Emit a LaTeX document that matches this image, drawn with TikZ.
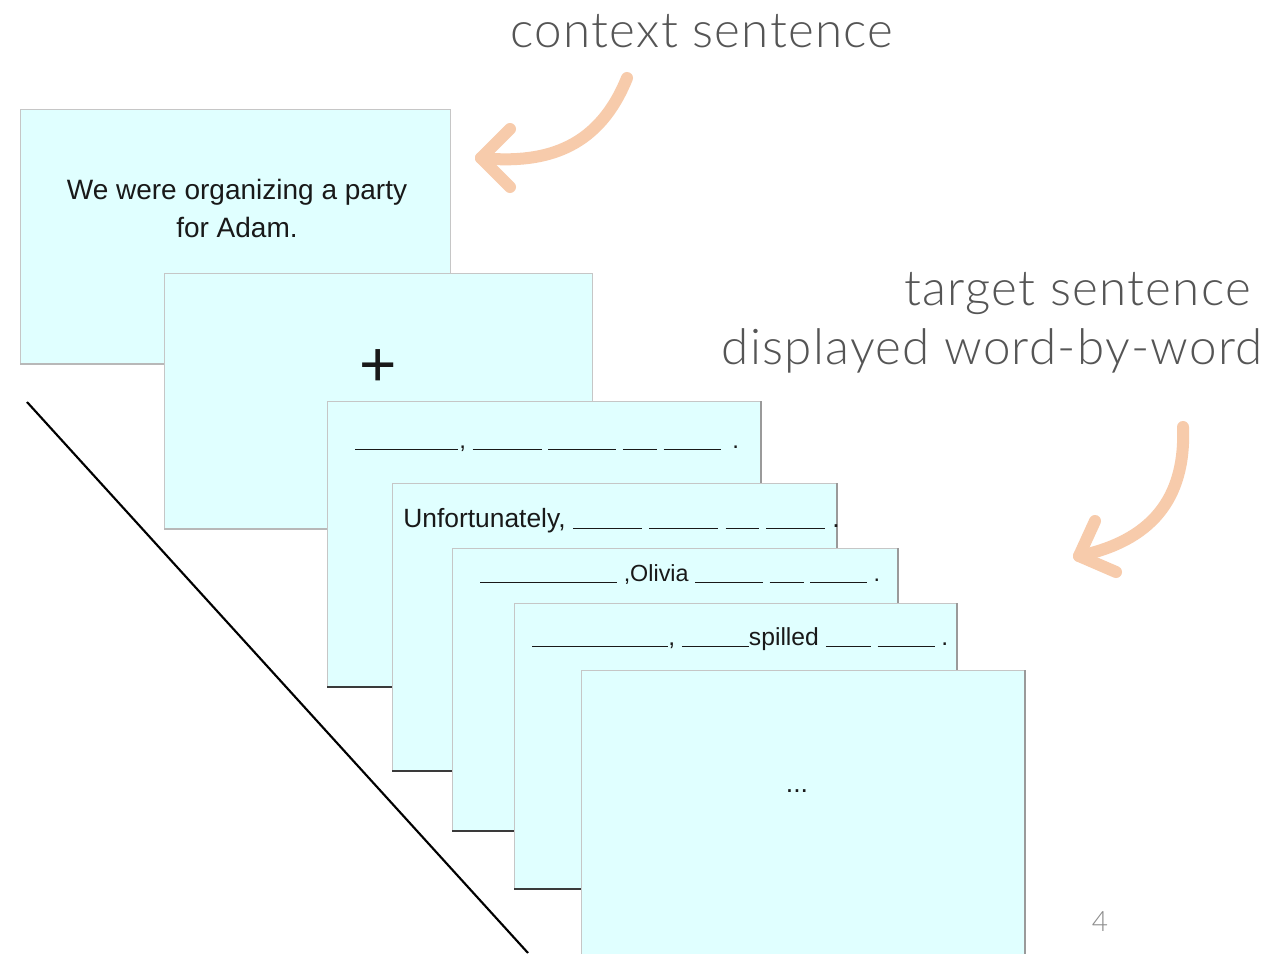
\documentclass[tikz,border=0pt]{standalone}
\usepackage{fontspec}
\setmainfont{Liberation Sans}
\newfontfamily\labelfont{Lato Light}
\newfontfamily\headfont{Lato Light}[LetterSpace=2.6]
\newlength\px
\setlength\px{0.75pt}
% an empty slot for a word not yet shown
\newcommand\blank[1]{\rule[-2\px]{#1\px}{1.4\px}}

\definecolor{cardfill}{HTML}{E0FFFF}
\definecolor{cardedge}{HTML}{C6C6C6}
\definecolor{cardright}{HTML}{9A9A9A}
\definecolor{shadowdark}{HTML}{3A3A3A}
\definecolor{shadowlight}{HTML}{B8B8B8}
\definecolor{peach}{HTML}{F7CBAB}
\definecolor{labelgray}{HTML}{555555}

\tikzset{
  card/.style={rectangle, fill=cardfill, draw=cardedge, line width=0.6pt,
    anchor=north west, inner sep=0pt, outer sep=0pt},
  rightedge/.style={draw=cardright, line width=0.9pt},
  darkshadow/.style={draw=shadowdark, line width=1.6pt},
  softshadow/.style={draw=shadowlight, line width=1.4pt},
  cardtext/.style={inner sep=0pt, text=black!90},
  cue/.style={draw=peach, line width=9pt, line cap=round, line join=round},
  label/.style={font=\headfont\fontsize{37pt}{44pt}\selectfont, text=labelgray, inner sep=0pt},
}

\begin{document}
\begin{tikzpicture}[x=0.75pt, y=-0.75pt]
\clip (0,0) rectangle (1281,953);
\fill[white] (0,0) rectangle (1281,953);

% stacked slides, back to front
\node[card, minimum width={430*0.75pt}, minimum height={255*0.75pt}] (c1) at (20,109) {};
\draw[softshadow] (c1.south west) -- (c1.south east);
\node[cardtext, align=center, font=\fontsize{21pt}{28.5pt}\selectfont] (t1) at (237,208)
  {We were organizing a party\\for Adam.};

\node[card, minimum width={428*0.75pt}, minimum height={256*0.75pt}] (c2) at (164,273) {};
\draw[softshadow] (c2.south west) -- (c2.south east);
\node[cardtext, font=\fontsize{48pt}{48pt}\selectfont] (t2) at (378,368) {+};

\node[card, minimum width={434*0.75pt}, minimum height={286*0.75pt}] (c3) at (327,401) {};
\draw[rightedge] (c3.north east) -- (c3.south east);
\draw[darkshadow] (c3.south west) -- (c3.south east);
\node[cardtext, anchor=base west, font=\fontsize{18pt}{22pt}\selectfont] (t3) at (355,448)
  {\blank{103}\kern1\px, \blank{69} \blank{68} \blank{34} \blank{57}\kern5\px{} .};

\node[card, minimum width={445*0.75pt}, minimum height={288*0.75pt}] (c4) at (392,483) {};
\draw[rightedge] (c4.north east) -- (c4.south east);
\draw[darkshadow] (c4.south west) -- (c4.south east);
\node[cardtext, anchor=base west, font=\fontsize{19.8pt}{22pt}\selectfont] (t4) at (403,527)
  {Unfortunately, \blank{69} \blank{69} \blank{33} \blank{59} .};

\node[card, minimum width={446*0.75pt}, minimum height={283*0.75pt}] (c5) at (452,548) {};
\draw[rightedge] (c5.north east) -- (c5.south east);
\draw[darkshadow] (c5.south west) -- (c5.south east);
\node[cardtext, anchor=base west, font=\fontsize{17.5pt}{22pt}\selectfont] (t5) at (480,581)
  {\blank{137} ,Olivia \blank{68} \blank{34} \blank{57} .};

\node[card, minimum width={443*0.75pt}, minimum height={286*0.75pt}] (c6) at (514,603) {};
\draw[rightedge] (c6.north east) -- (c6.south east);
\draw[darkshadow] (c6.south west) -- (c6.south east);
\node[cardtext, anchor=base west, font=\fontsize{18.5pt}{22pt}\selectfont] (t6) at (532,645)
  {\blank{136}, \blank{67}spilled \blank{45} \blank{57} .};

\node[card, minimum width={444*0.75pt}, minimum height={300*0.75pt}] (c7) at (581,670) {};
\draw[rightedge] (c7.north east) -- (c7.south east);
\node[cardtext, font=\fontsize{20pt}{22pt}\selectfont] (t7) at (797,791) {...};

% time axis
\coordinate (axisA) at (27,402);
\coordinate (axisB) at (528,953);
\draw[line width=1.6pt, black] (axisA) -- (axisB);

% labels
\node[label, anchor=base] (ctx) at (702,47) {context sentence};
\node[label, anchor=base east] (tgt1) at (1251,305) {target sentence};
\node[label, anchor=base east] (tgt2) at (1263,364) {displayed word-by-word};
\node[font=\labelfont\fontsize{21pt}{21pt}\selectfont, text=black!45, inner sep=0pt, anchor=base] (pg) at (1100,931) {4};

% curved cue arrows
\coordinate (ctxStart) at (627,78);
\coordinate (ctxTip) at (481,158);
\draw[cue] (ctxStart) .. controls (600,145) and (550,165) .. (ctxTip);
\draw[cue] (510,129) -- (ctxTip) -- (510,187);

\coordinate (tgtStart) at (1183,427);
\coordinate (tgtTip) at (1079,556);
\draw[cue] (tgtStart) .. controls (1186,500) and (1150,541) .. (tgtTip);
\draw[cue] (1095,521) -- (tgtTip) -- (1116,572);
\end{tikzpicture}
\end{document}
